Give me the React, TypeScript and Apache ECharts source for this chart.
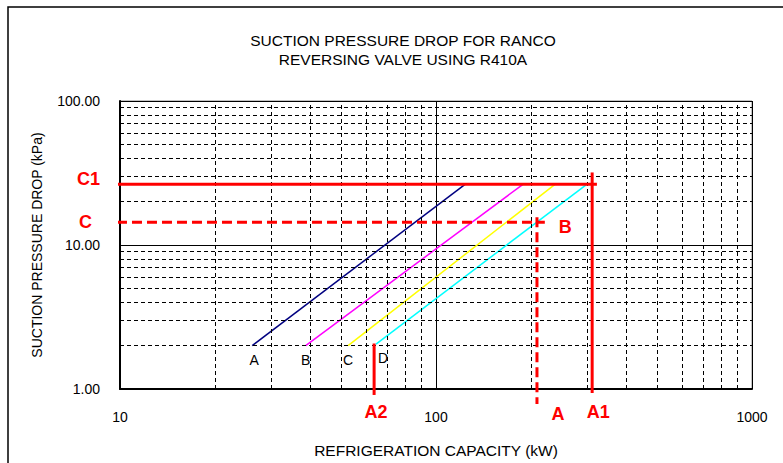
import React, { useEffect, useRef } from "react";
import * as echarts from "echarts";

// Curves (valve sizes A-D): capacity (kW) and pressure drop (kPa) at both ends
const curveNames = ["A", "B", "C", "D"];
const curveColors = ["#000080", "#ff00ff", "#ffff00", "#00ffff"];
const curveStartKW = [26.2, 38.7, 52.7, 64.6];
const curveStartKPa = [2, 2, 2, 2.05];
const curveEndKW = [123.6, 188.5, 238, 300];
const curveEndKPa = [26.4, 26.4, 26.4, 26.4];

// Minor grid lines
const xMinorGrid = [20, 30, 40, 50, 60, 70, 80, 90, 200, 300, 400, 500, 600, 700, 800, 900];
const yMinorGrid = [2, 3, 4, 5, 6, 7, 8, 9, 20, 30, 40, 50, 60, 70, 80, 90];

// Red annotation values
const c1Drop = 26.4;
const c1Span = [8.97, 323];
const a1Cap = 312;
const a1Span = [31.9, 0.938];
const cDrop = 14.4;
const cSpan = [8.77, 221];
const aCap = 208.7;
const aSpan = [15.6, 0.788];
const a2Cap = 63.7;
const a2Span = [2.07, 0.909];

const FONT = "Liberation Sans";

export default function App() {
  const ref = useRef<HTMLDivElement>(null);
  useEffect(() => {
    const chart = echarts.init(ref.current!, null, { renderer: "svg" });
    const red = "#ff0000";
    const redLabel = {
      show: true,
      color: red,
      fontFamily: FONT,
      fontWeight: "bold",
      fontSize: 18,
    };
    const curveSeries = curveNames.map((n, i) => ({
      type: "line",
      name: n,
      z: 3,
      symbol: "circle",
      symbolSize: 0,
      showSymbol: true,
      lineStyle: { color: curveColors[i], width: 1.5 },
      itemStyle: { color: curveColors[i] },
      data: [
        {
          value: [curveStartKW[i], curveStartKPa[i]],
          label: {
            show: true,
            position: "bottom",
            distance: 7,
            offset: [i === 3 ? 7 : i === 0 ? 2 : 0, 0],
            formatter: n,
            color: "#000",
            fontFamily: FONT,
            fontSize: 14,
          },
        },
        { value: [curveEndKW[i], curveEndKPa[i]] },
      ],
    }));
    const redLine = (data: any[], dashed: boolean) => ({
      type: "line",
      z: 5,
      clip: false,
      symbol: "circle",
      symbolSize: 0,
      showSymbol: true,
      lineStyle: { color: red, width: 3, type: dashed ? [10, 5] : "solid" },
      itemStyle: { color: red },
      data,
    });
    chart.setOption({
      animation: false,
      title: {
        text: "SUCTION PRESSURE DROP FOR RANCO\nREVERSING VALVE USING R410A",
        left: 398,
        top: 26,
        textAlign: "center",
        textStyle: {
          fontFamily: FONT,
          fontSize: 15.5,
          fontWeight: "normal",
          color: "#000",
          lineHeight: 19,
        },
      },
      graphic: [
        {
          type: "rect",
          shape: { x: 8, y: 7, width: 800, height: 500 },
          style: { fill: "none", stroke: "#000", lineWidth: 1.5 },
          silent: true,
        },
      ],
      grid: {
        left: 120,
        right: 31,
        top: 101,
        bottom: 73,
        show: true,
        borderColor: "#888",
        borderWidth: 1,
        backgroundColor: "transparent",
      },
      xAxis: {
        type: "log",
        logBase: 10,
        min: 10,
        max: 1000,
        name: "REFRIGERATION CAPACITY (kW)",
        nameLocation: "middle",
        nameGap: 53,
        nameTextStyle: { fontFamily: FONT, fontSize: 15.5, color: "#000" },
        axisLine: { show: true, lineStyle: { color: "#000", width: 2 } },
        axisTick: { show: false },
        axisLabel: {
          fontFamily: FONT,
          fontSize: 14,
          color: "#000",
          margin: 21,
          formatter: (v: number) => String(v),
        },
        splitLine: { show: true, lineStyle: { color: "#000", width: 1 } },
      },
      yAxis: {
        type: "log",
        logBase: 10,
        min: 1,
        max: 100,
        name: "SUCTION PRESSURE DROP (kPa)",
        nameLocation: "middle",
        nameRotate: 90,
        nameGap: 76,
        nameTextStyle: { fontFamily: FONT, fontSize: 14, color: "#000" },
        axisLine: { show: true, lineStyle: { color: "#000", width: 2 } },
        axisTick: { show: false },
        axisLabel: {
          fontFamily: FONT,
          fontSize: 14,
          color: "#000",
          margin: 20,
          formatter: (v: number) => v.toFixed(2),
        },
        splitLine: { show: true, lineStyle: { color: "#000", width: 1 } },
      },
      series: [
        {
          type: "line",
          z: 1,
          data: [],
          silent: true,
          markLine: {
            silent: true,
            symbol: ["none", "none"],
            label: { show: false },
            lineStyle: { color: "#000", width: 1, type: [4, 3] },
            data: [
              ...xMinorGrid.map((v) => ({ xAxis: v })),
              ...yMinorGrid.map((v) => ({ yAxis: v })),
            ],
          },
        },
        ...curveSeries,
        redLine(
          [
            {
              value: [c1Span[0], c1Drop],
              label: { ...redLabel, position: "left", distance: 5, offset: [0, -5], formatter: "C1" },
            },
            { value: [c1Span[1], c1Drop] },
          ],
          false
        ),
        redLine(
          [
            { value: [a1Cap, a1Span[0]] },
            {
              value: [a1Cap, a1Span[1]],
              label: { ...redLabel, position: "bottom", distance: 10, offset: [6, 0], formatter: "A1" },
            },
          ],
          false
        ),
        redLine(
          [
            {
              value: [cSpan[0], cDrop],
              label: { ...redLabel, position: "left", distance: 10, formatter: "C" },
            },
            {
              value: [cSpan[1], cDrop],
              label: { ...redLabel, position: "right", distance: 14, offset: [0, 5], formatter: "B" },
            },
          ],
          true
        ),
        redLine(
          [
            { value: [aCap, aSpan[0]] },
            {
              value: [aCap, aSpan[1]],
              label: { ...redLabel, position: "bottom", distance: 1, offset: [21, 0], formatter: "A" },
            },
          ],
          true
        ),
        redLine(
          [
            { value: [a2Cap, a2Span[0]] },
            {
              value: [a2Cap, a2Span[1]],
              label: { ...redLabel, position: "bottom", distance: 8, offset: [2, 0], formatter: "A2" },
            },
          ],
          false
        ),
      ],
    });
    return () => chart.dispose();
  }, []);
  return (
    <div
      ref={ref}
      style={{ position: "fixed", left: 0, top: 0, width: 783, height: 463, background: "#fff" }}
    />
  );
}
